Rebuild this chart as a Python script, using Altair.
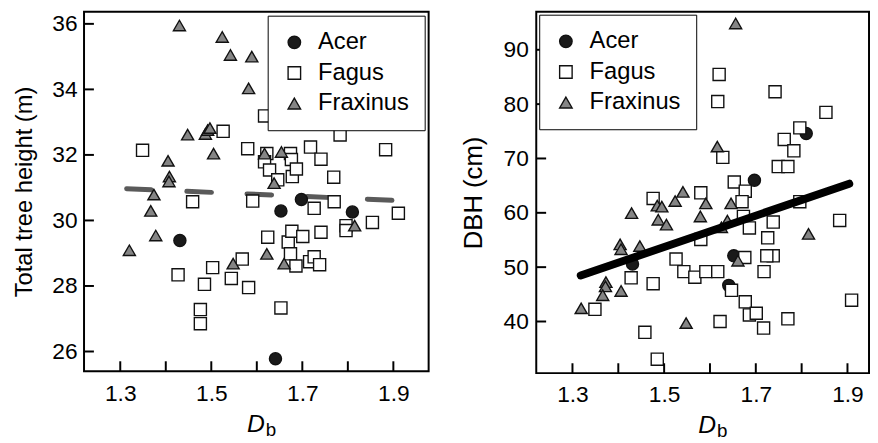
import altair as alt
import pandas as pd

species = ["Acer", "Fagus", "Fraxinus"]

# ---- Left panel: total tree height (m) vs Db ----
h_acer_db = [1.653, 1.698, 1.810, 1.431, 1.641]
h_acer_val = [30.29, 30.64, 30.26, 29.39, 25.78]

h_fagus_db = [1.349, 1.459, 1.526, 1.580, 1.591, 1.617, 1.622, 1.617, 1.628, 1.646,
              1.674, 1.676, 1.678, 1.687, 1.718, 1.741, 1.769, 1.747, 1.765, 1.783,
              1.883, 1.726, 1.770, 1.854, 1.911, 1.796, 1.796, 1.427, 1.476, 1.476,
              1.485, 1.503, 1.544, 1.568, 1.582, 1.624, 1.653, 1.669, 1.677, 1.674,
              1.686, 1.701, 1.716, 1.726, 1.738, 1.741]
h_fagus_val = [32.14, 30.57, 32.72, 32.19, 30.59, 33.19, 32.04, 31.79, 31.54, 31.24,
               32.04, 31.86, 31.34, 31.57, 32.24, 31.87, 31.32, 33.19, 33.09, 32.61,
               32.16, 30.37, 30.57, 29.94, 30.22, 29.84, 29.69, 28.34, 27.28, 26.85,
               28.05, 28.56, 28.23, 28.82, 27.95, 29.49, 27.33, 29.34, 29.67, 28.98,
               28.61, 29.51, 28.74, 28.89, 28.65, 29.64]

h_frax_db = [1.430, 1.524, 1.542, 1.589, 1.582, 1.646, 1.448, 1.487, 1.492, 1.497,
             1.505, 1.405, 1.408, 1.407, 1.374, 1.367, 1.617, 1.654, 1.638, 1.378,
             1.320, 1.548, 1.622, 1.660, 1.815]
h_frax_val = [35.95, 35.60, 35.05, 35.00, 34.03, 34.06, 32.62, 32.64, 32.76, 32.82,
              32.04, 31.82, 31.34, 31.19, 30.79, 30.29, 32.04, 32.09, 31.14, 29.54,
              29.09, 28.68, 28.98, 28.68, 29.84]

h_trend_db = [1.314, 1.906]
h_trend_val = [30.97, 30.61]

# ---- Right panel: DBH (cm) vs Db ----
d_acer_db = [1.431, 1.652, 1.641, 1.697, 1.810]
d_acer_val = [50.58, 52.08, 46.65, 65.98, 74.60]

d_fagus_db = [1.503, 1.620, 1.617, 1.742, 1.853, 1.796, 1.762, 1.783, 1.749, 1.770,
              1.628, 1.653, 1.677, 1.670, 1.580, 1.476, 1.796, 1.883, 1.738, 1.673,
              1.686, 1.726, 1.738, 1.724, 1.676, 1.718, 1.580, 1.526, 1.543, 1.567,
              1.591, 1.617, 1.428, 1.476, 1.349, 1.458, 1.485, 1.622, 1.647, 1.677,
              1.686, 1.701, 1.717, 1.770, 1.909]
d_fagus_val = [80.47, 85.47, 80.47, 82.28, 78.48, 75.63, 73.51, 71.41, 68.51, 68.51,
               70.20, 65.67, 63.98, 62.05, 63.68, 62.65, 62.05, 58.60, 58.30, 59.33,
               57.21, 55.40, 52.08, 52.08, 51.78, 49.18, 55.10, 51.49, 49.18, 48.15,
               49.18, 49.18, 48.04, 46.96, 42.25, 38.01, 33.06, 40.00, 45.74, 43.62,
               41.21, 41.52, 38.80, 40.49, 43.93]

d_frax_db = [1.656, 1.616, 1.429, 1.485, 1.495, 1.524, 1.541, 1.591, 1.646, 1.579,
             1.487, 1.505, 1.638, 1.404, 1.406, 1.447, 1.373, 1.372, 1.366, 1.406,
             1.319, 1.548, 1.661, 1.815, 1.625]
d_frax_val = [94.84, 72.19, 59.93, 61.32, 61.14, 62.17, 63.86, 61.74, 61.74, 59.33,
              58.73, 57.83, 58.55, 54.20, 53.30, 53.89, 47.25, 46.47, 44.84, 45.62,
              42.43, 39.71, 51.18, 56.12, 57.34]

d_trend_db = [1.318, 1.904]
d_trend_val = [48.46, 65.36]

x_label_values = [1.3, 1.5, 1.7, 1.9]
x_tick_values = [1.3, 1.4, 1.5, 1.6, 1.7, 1.8, 1.9]
h_ticks = [26, 28, 30, 32, 34, 36]
d_ticks = [40, 50, 60, 70, 80, 90]

FONT = "Liberation Sans"
TICK_LEN = 10


def points_frame(dbs, vals):
    rows = []
    for sp, ds, vs in zip(species, dbs, vals):
        for d, v in zip(ds, vs):
            rows.append({"species": sp, "db": d, "val": v})
    return pd.DataFrame(rows)


def panel(df, trend, xdom, ydom, yticks, ytitle, w, h, legend_orient, legend_offset,
          line_kw, title_size, title_pad, label_pad_y, label_pad_x, d_x, d_y, line_on_top):
    xs = alt.Scale(domain=xdom, nice=False, zero=False)
    ys = alt.Scale(domain=ydom, nice=False, zero=False)
    leg = alt.Legend(title=None, orient=legend_orient, offset=legend_offset,
                     strokeColor="black", fillColor="white", padding=15,
                     labelFontSize=24, labelFont=FONT, labelColor="black",
                     rowPadding=7, labelOffset=12, symbolSize=160,
                     symbolStrokeWidth=1.4)
    x_axis = alt.Axis(values=x_label_values, format=".1f", ticks=False, tickSize=0,
                      labelPadding=label_pad_x, domain=False, title=None, orient="bottom",
                      labelFontSize=23, labelFont=FONT, labelColor="black", grid=False)
    y_axis = alt.Axis(values=yticks, ticks=False, tickSize=0, labelPadding=label_pad_y,
                      domain=False, title=ytitle, titleFontSize=title_size,
                      titlePadding=title_pad, titleFontWeight="normal", orient="left",
                      titleFont=FONT, titleColor="black",
                      labelFontSize=23, labelFont=FONT, labelColor="black", grid=False)
    pts = alt.Chart(df).mark_point(filled=True, strokeWidth=1.4,
                                   size=150, opacity=1).encode(
        x=alt.X("db:Q", scale=xs, axis=x_axis),
        y=alt.Y("val:Q", scale=ys, axis=y_axis),
        shape=alt.Shape("species:N", scale=alt.Scale(domain=species,
                        range=["circle", "square", "triangle-up"]), legend=leg),
        fill=alt.Fill("species:N", scale=alt.Scale(domain=species,
                      range=["#1a1a1a", "#ffffff", "#858585"]), legend=leg),
        stroke=alt.Stroke("species:N", scale=alt.Scale(domain=species,
                          range=["#111111", "#111111", "#111111"]), legend=leg),
    )
    line = alt.Chart(trend).mark_line(**line_kw).encode(
        x=alt.X("db:Q", scale=xs, axis=x_axis),
        y=alt.Y("val:Q", scale=ys, axis=y_axis),
    )
    # inward tick marks, placed through the shared scales
    xt = alt.Chart(pd.DataFrame({"db": x_tick_values})).mark_tick(
        color="#000000", thickness=2, size=TICK_LEN, orient="vertical", opacity=1).encode(
        x=alt.X("db:Q", scale=xs, axis=x_axis),
        y=alt.value(h - TICK_LEN / 2))
    yt = alt.Chart(pd.DataFrame({"val": yticks})).mark_tick(
        color="#000000", thickness=2, size=TICK_LEN, orient="horizontal", opacity=1).encode(
        y=alt.Y("val:Q", scale=ys, axis=y_axis),
        x=alt.value(TICK_LEN / 2))
    dt = alt.Chart(pd.DataFrame({"t": ["D"]})).mark_text(
        font=FONT, fontSize=25, fontStyle="italic", align="right", baseline="alphabetic",
        color="black").encode(x=alt.value(d_x), y=alt.value(d_y), text="t:N")
    bt = alt.Chart(pd.DataFrame({"t": ["b"]})).mark_text(
        font=FONT, fontSize=19, align="left", baseline="alphabetic",
        color="black").encode(x=alt.value(d_x + 1), y=alt.value(d_y + 4), text="t:N")
    layers = [pts, line] if line_on_top else [line, pts]
    return alt.layer(*layers, xt, yt, dt, bt).properties(width=w, height=h)


left_df = points_frame([h_acer_db, h_fagus_db, h_frax_db], [h_acer_val, h_fagus_val, h_frax_val])
right_df = points_frame([d_acer_db, d_fagus_db, d_frax_db], [d_acer_val, d_fagus_val, d_frax_val])
left_trend = pd.DataFrame({"db": h_trend_db, "val": h_trend_val})
right_trend = pd.DataFrame({"db": d_trend_db, "val": d_trend_val})

left = panel(left_df, left_trend, [1.2204, 1.9775], [25.4, 36.37], h_ticks,
             "Total tree height (m)", 349, 364, "top-right", 4,
             dict(color="#5a5a5a", strokeWidth=5, strokeDash=[25, 36], strokeCap="round"),
             24, 16, 7, 12, 183, 426, False)
right = panel(right_df, right_trend, [1.221, 1.947], [30.5, 97.0], d_ticks,
              "DBH (cm)", 337, 366, "top-left", 3,
              dict(color="black", strokeWidth=8, strokeCap="round"),
              26, 17, 8, 11, 182, 427, True)

chart = alt.hconcat(left, right, spacing=30).properties(
    padding={"left": 3, "top": 0, "right": 0, "bottom": 0}, background="white"
).configure_view(stroke="black", strokeWidth=2)

chart.save("out.html", embed_options={"renderer": "svg", "actions": False})
